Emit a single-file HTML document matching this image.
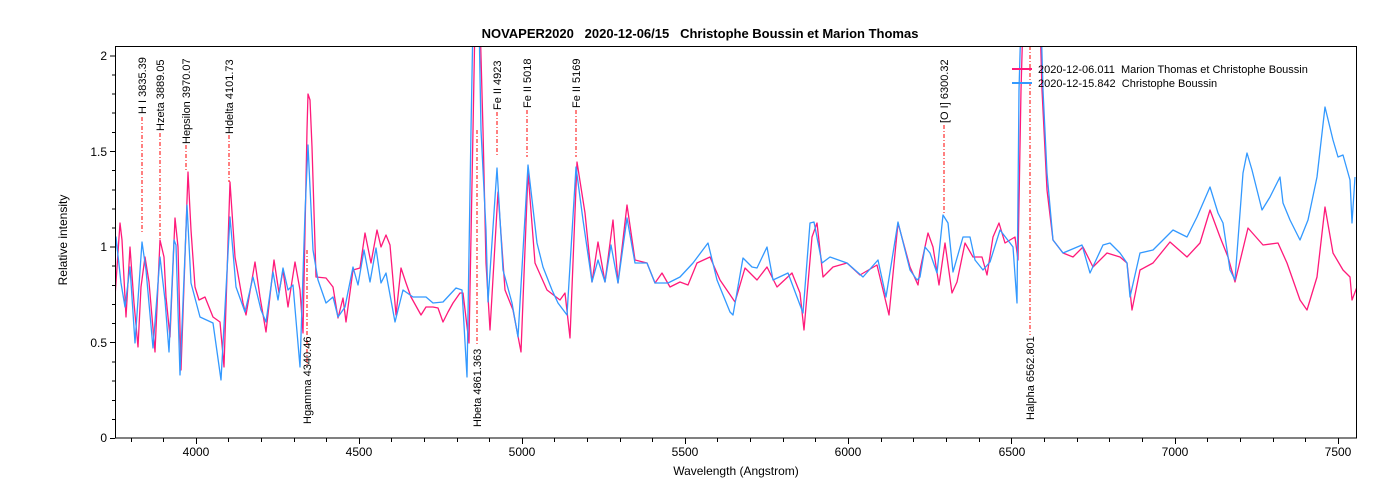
<!DOCTYPE html>
<html><head><meta charset="utf-8"><style>
html,body{margin:0;padding:0;background:#fff;}
svg{display:block;font-family:"Liberation Sans",Arial,sans-serif;}
text{white-space:pre;}
</style></head><body>
<svg width="1400" height="500" viewBox="0 0 1400 500" xmlns="http://www.w3.org/2000/svg" xml:space="preserve">
<rect width="1400" height="500" fill="#fff"/>
<text x="700" y="38" text-anchor="middle" font-size="13" font-weight="bold">NOVAPER2020   2020-12-06/15   Christophe Boussin et Marion Thomas</text>
<defs><clipPath id="c"><rect x="115" y="46" width="1241" height="392"/></clipPath></defs>
<g clip-path="url(#c)" fill="none" stroke-width="1.3" stroke-linejoin="round">
<polyline stroke="#ff1a7a" points="115,297 120,223 122,240 126,317 130,247 134,303 138,347 141,287 145,257 149,282 152,317 155,352 160,240 164,257 166,297 170,337 175,218 178,247 181,370 188,172 191,230 195,287 199,300 205,297 213,317 220,322 224,367 230,182 235,257 243,303 246,315 255,262 260,297 266,332 274,260 279,293 283,270 288,307 295,262 300,290 303,333 307,130 308,94 310,100 312,147 316,277 326,278 333,287 338,318 343,298 346,322 353,270 360,268 365,233 371,263 377,230 381,247 386,235 390,245 396,315 401,268 406,283 411,297 421,315 426,307 433,307 438,308 443,322 448,312 453,303 460,293 463,293 469,343 473,130 475,20 480,20 483,130 486,263 490,330 498,192 505,290 513,310 521,352 528,172 535,263 547,290 560,300 565,293 570,338 577,162 585,213 592,282 598,242 605,282 613,220 618,283 627,205 635,260 647,263 655,283 662,273 670,287 680,282 688,285 697,263 710,257 720,280 735,302 745,268 757,280 767,267 777,287 792,273 800,293 804,330 812,237 817,223 823,277 833,267 847,263 860,275 877,265 889,315 898,223 910,267 918,285 920,270 928,233 933,247 939,285 945,243 952,293 957,282 965,243 973,257 982,257 987,275 993,237 999,223 1005,243 1015,237 1018,260 1021,90 1023,20 1040,20 1042,90 1047,190 1053,240 1063,253 1073,257 1083,247 1093,267 1107,253 1120,257 1127,263 1132,310 1140,270 1153,263 1170,242 1187,257 1200,243 1210,210 1220,237 1228,257 1235,282 1248,228 1263,245 1278,243 1287,263 1300,300 1307,310 1317,277 1325,207 1333,253 1343,270 1350,277 1352,300 1357,287"/>
<polyline stroke="#3399ff" points="115,260 116,237 121,283 125,307 130,267 135,343 142,242 146,270 153,348 160,257 165,300 169,352 174,240 176,245 180,375 187,205 191,283 200,317 213,323 221,380 230,217 236,287 245,312 253,277 261,310 266,322 273,272 278,300 283,268 288,290 293,285 300,367 305,213 308,145 313,250 318,280 326,303 333,297 338,317 345,307 353,267 358,285 364,250 370,282 376,248 381,283 386,273 395,322 403,290 413,297 426,297 433,303 443,302 456,288 462,290 467,377 471,130 473,20 479,20 481,130 486,230 488,302 497,168 503,270 512,303 518,337 528,165 537,243 543,267 552,290 558,303 567,315 576,167 583,220 592,282 598,260 605,282 611,245 618,283 627,218 635,263 647,263 655,283 668,283 680,277 693,263 708,243 717,280 730,312 733,315 743,258 752,267 757,268 767,247 773,280 788,273 803,313 810,223 814,222 822,263 830,257 847,263 863,277 878,260 886,297 898,222 910,270 917,280 920,277 925,247 930,253 937,273 943,215 948,223 953,272 963,237 970,237 975,260 983,270 990,262 1000,230 1010,243 1013,247 1017,303 1019,90 1021,20 1041,20 1043,90 1047,173 1053,240 1063,253 1082,245 1090,273 1103,245 1110,243 1120,253 1127,263 1130,297 1140,253 1153,250 1173,230 1187,237 1197,217 1210,187 1218,213 1223,223 1230,270 1235,280 1243,173 1247,153 1252,170 1262,210 1270,197 1280,177 1283,203 1290,220 1300,240 1308,220 1317,177 1325,107 1333,140 1338,157 1343,155 1350,180 1352,223 1355,177"/>
</g>
<g stroke="#ff0000" stroke-width="1" stroke-dasharray="4,2,1,2" fill="none">
<line x1="142" y1="117" x2="142" y2="232"/>
<line x1="160" y1="133" x2="160" y2="240"/>
<line x1="186" y1="145" x2="186" y2="172"/>
<line x1="229" y1="135" x2="229" y2="182"/>
<line x1="497" y1="112" x2="497" y2="157"/>
<line x1="527" y1="110" x2="527" y2="157"/>
<line x1="576" y1="110" x2="576" y2="157"/>
<line x1="944" y1="125" x2="944" y2="215"/>
<line x1="307" y1="250" x2="307" y2="365"/>
<line x1="477" y1="130" x2="477" y2="345"/>
<line x1="1030" y1="46" x2="1030" y2="335"/>
</g>
<g font-size="11" fill="#000">
<text transform="translate(146,114) rotate(-90)">H I 3835.39</text>
<text transform="translate(164,131) rotate(-90)">Hzeta 3889.05</text>
<text transform="translate(190,144) rotate(-90)">Hepsilon 3970.07</text>
<text transform="translate(233,134) rotate(-90)">Hdelta 4101.73</text>
<text transform="translate(501,110) rotate(-90)">Fe II 4923</text>
<text transform="translate(531,108) rotate(-90)">Fe II 5018</text>
<text transform="translate(580,108) rotate(-90)">Fe II 5169</text>
<text transform="translate(948,123) rotate(-90)">[O I] 6300.32</text>
<text transform="translate(311,424) rotate(-90)">Hgamma 4340.46</text>
<text transform="translate(481,427) rotate(-90)">Hbeta 4861.363</text>
<text transform="translate(1034,420) rotate(-90)">Halpha 6562.801</text>
</g>
<rect x="115.5" y="46.5" width="1241" height="391.5" fill="none" stroke="#000" stroke-width="1"/>
<g stroke="#000" stroke-width="1">
<path d="M110,438.5H115M110,342.5H115M110,247H115M110,151.5H115M110,56H115"/>
<path d="M112,419.5H115M112,400.5H115M112,381H115M112,362H115M112,323.5H115M112,304.5H115M112,285.5H115M112,266H115M112,228H115M112,209H115M112,190H115M112,170.5H115M112,132.5H115M112,113H115M112,94H115M112,75H115"/>
</g>
<g font-size="12" text-anchor="end">
<text x="107" y="442">0</text><text x="107" y="347">0.5</text><text x="107" y="251">1</text><text x="107" y="156">1.5</text><text x="107" y="60">2</text>
</g>
<g font-size="12" text-anchor="middle">
<text x="196" y="456">4000</text><text x="359" y="456">4500</text><text x="522" y="456">5000</text><text x="685" y="456">5500</text><text x="848" y="456">6000</text><text x="1012" y="456">6500</text><text x="1175" y="456">7000</text><text x="1338" y="456">7500</text>
</g>
<text x="736" y="475" font-size="12" text-anchor="middle">Wavelength (Angstrom)</text>
<text transform="translate(67,240) rotate(-90)" font-size="12" text-anchor="middle">Relative intensity</text>
<line x1="1012" y1="69" x2="1032" y2="69" stroke="#ff1a7a" stroke-width="2"/>
<line x1="1012" y1="83" x2="1032" y2="83" stroke="#3399ff" stroke-width="2"/>
<text x="1038" y="73" font-size="11">2020-12-06.011  Marion Thomas et Christophe Boussin</text>
<text x="1038" y="87" font-size="11">2020-12-15.842  Christophe Boussin</text>
<path stroke="#000" stroke-width="1" d="M131.5,438V442M163.5,438V442M196.5,438V444M228.5,438V442M261.5,438V442M294.5,438V442M326.5,438V442M359.5,438V444M391.5,438V442M424.5,438V442M457.5,438V442M489.5,438V442M522.5,438V444M554.5,438V442M587.5,438V442M620.5,438V442M652.5,438V442M685.5,438V444M717.5,438V442M750.5,438V442M783.5,438V442M815.5,438V442M848.5,438V444M881.5,438V442M913.5,438V442M946.5,438V442M979.5,438V442M1011.5,438V444M1044.5,438V442M1077.5,438V442M1109.5,438V442M1142.5,438V442M1175.5,438V444M1207.5,438V442M1240.5,438V442M1273.5,438V442M1305.5,438V442M1338.5,438V444"/>
</svg>
</body></html>
